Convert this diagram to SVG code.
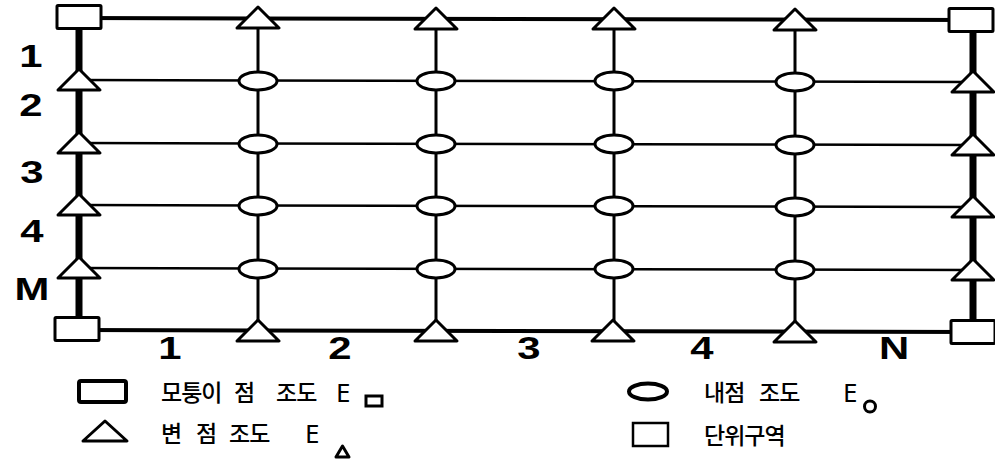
<svg xmlns="http://www.w3.org/2000/svg" xmlns:xlink="http://www.w3.org/1999/xlink" width="995" height="464" viewBox="0 0 995 464">
<style>
.shape{fill:#fff;stroke:#000;stroke-width:3;stroke-linejoin:round}
.edge{stroke:#000;stroke-linecap:butt;fill:none}
.thick{stroke-width:7}
.outer{stroke-width:4}
.vin{stroke-width:3}
.hin{stroke-width:2.5}
.num{font-family:"Liberation Sans",Arial,sans-serif;font-weight:bold;font-size:31px;fill:#000;text-anchor:middle}
.ko{font-family:"Noto Sans CJK KR","Noto Sans",sans-serif;font-size:23px;font-weight:500;letter-spacing:-1px;fill:#000}
.e{font-family:"Noto Sans","Liberation Sans",sans-serif;font-size:26px;fill:#000}
</style>
<defs>
<rect id="sq" class="shape" x="-22" y="-11.5" width="44" height="23" rx="1"/>
<path id="tri" class="shape" d="M0,-11 L21,10 L-21,10 Z"/>
<ellipse id="ell" class="shape" cx="0" cy="0" rx="19" ry="9"/>
</defs>
<rect width="995" height="464" fill="#fff"/>
<g id="connectors">
<line class="edge outer" x1="79" y1="18" x2="973" y2="20"/>
<line class="edge outer" x1="79" y1="330" x2="973" y2="332"/>
<line class="edge thick" x1="79" y1="18" x2="79" y2="330"/>
<line class="edge thick" x1="973" y1="20" x2="973" y2="332"/>
<line class="edge hin" x1="79" y1="80" x2="973" y2="82"/>
<line class="edge hin" x1="79" y1="143" x2="973" y2="145"/>
<line class="edge hin" x1="79" y1="205" x2="973" y2="207"/>
<line class="edge hin" x1="79" y1="268" x2="973" y2="270"/>
<line class="edge vin" x1="258" y1="18" x2="258" y2="331"/>
<line class="edge vin" x1="436" y1="19" x2="436" y2="331"/>
<line class="edge vin" x1="614" y1="19" x2="614" y2="331"/>
<line class="edge vin" x1="795" y1="20" x2="795" y2="332"/>
</g>
<g id="corner-tl"><use xlink:href="#sq" x="79" y="17"/></g>
<g id="corner-tr"><use xlink:href="#sq" x="971" y="20"/></g>
<g id="corner-bl"><use xlink:href="#sq" x="77" y="329"/></g>
<g id="corner-br"><use xlink:href="#sq" x="973" y="332"/></g>
<g id="edge-top-1"><use xlink:href="#tri" x="258" y="18"/></g>
<g id="edge-top-2"><use xlink:href="#tri" x="436" y="19"/></g>
<g id="edge-top-3"><use xlink:href="#tri" x="614" y="19"/></g>
<g id="edge-top-4"><use xlink:href="#tri" x="795" y="20"/></g>
<g id="edge-bottom-1"><use xlink:href="#tri" x="258" y="331"/></g>
<g id="edge-bottom-2"><use xlink:href="#tri" x="436" y="331"/></g>
<g id="edge-bottom-3"><use xlink:href="#tri" x="613" y="331"/></g>
<g id="edge-bottom-4"><use xlink:href="#tri" x="795" y="332"/></g>
<g id="edge-left-1"><use xlink:href="#tri" x="79" y="80"/></g>
<g id="edge-left-2"><use xlink:href="#tri" x="79" y="143"/></g>
<g id="edge-left-3"><use xlink:href="#tri" x="79" y="205"/></g>
<g id="edge-left-4"><use xlink:href="#tri" x="79" y="268"/></g>
<g id="edge-right-1"><use xlink:href="#tri" x="973" y="82"/></g>
<g id="edge-right-2"><use xlink:href="#tri" x="973" y="145"/></g>
<g id="edge-right-3"><use xlink:href="#tri" x="973" y="207"/></g>
<g id="edge-right-4"><use xlink:href="#tri" x="973" y="270"/></g>
<g id="inner-1-1"><use xlink:href="#ell" x="258" y="81"/></g>
<g id="inner-1-2"><use xlink:href="#ell" x="436" y="81"/></g>
<g id="inner-1-3"><use xlink:href="#ell" x="614" y="81"/></g>
<g id="inner-1-4"><use xlink:href="#ell" x="795" y="82"/></g>
<g id="inner-2-1"><use xlink:href="#ell" x="258" y="144"/></g>
<g id="inner-2-2"><use xlink:href="#ell" x="436" y="144"/></g>
<g id="inner-2-3"><use xlink:href="#ell" x="614" y="144"/></g>
<g id="inner-2-4"><use xlink:href="#ell" x="795" y="145"/></g>
<g id="inner-3-1"><use xlink:href="#ell" x="258" y="206"/></g>
<g id="inner-3-2"><use xlink:href="#ell" x="436" y="206"/></g>
<g id="inner-3-3"><use xlink:href="#ell" x="614" y="206"/></g>
<g id="inner-3-4"><use xlink:href="#ell" x="795" y="207"/></g>
<g id="inner-4-1"><use xlink:href="#ell" x="258" y="269"/></g>
<g id="inner-4-2"><use xlink:href="#ell" x="436" y="269"/></g>
<g id="inner-4-3"><use xlink:href="#ell" x="614" y="269"/></g>
<g id="inner-4-4"><use xlink:href="#ell" x="795" y="270"/></g>
<g id="row-labels">
<text class="num" transform="translate(31,67) scale(1.35,1)">1</text>
<text class="num" transform="translate(31,116) scale(1.35,1)">2</text>
<text class="num" transform="translate(32,183) scale(1.35,1)">3</text>
<text class="num" transform="translate(32,242) scale(1.35,1)">4</text>
<text class="num" transform="translate(32,300) scale(1.35,1)">M</text>
</g>
<g id="col-labels">
<text class="num" transform="translate(170,359) scale(1.35,1)">1</text>
<text class="num" transform="translate(340,359) scale(1.35,1)">2</text>
<text class="num" transform="translate(529,359) scale(1.35,1)">3</text>
<text class="num" transform="translate(702,359) scale(1.35,1)">4</text>
<text class="num" transform="translate(894,359) scale(1.35,1)">N</text>
</g>
<g id="legend">
<rect x="79" y="381" width="47" height="21" rx="2" fill="#fff" stroke="#000" stroke-width="4"/>
<text class="ko" x="161" y="401">모퉁이</text>
<text class="ko" x="234" y="401">점</text>
<text class="ko" x="276" y="401">조도</text>
<text class="e" x="336" y="402">E</text>
<rect x="366" y="396" width="16" height="10" fill="#fff" stroke="#000" stroke-width="3"/>
<path d="M105,421 L127,441 L83,441 Z" fill="#fff" stroke="#000" stroke-width="3" stroke-linejoin="round"/>
<text class="ko" x="161" y="442">변</text>
<text class="ko" x="196" y="442">점</text>
<text class="ko" x="229" y="442">조도</text>
<text class="e" x="305" y="443">E</text>
<path d="M342.5,446 L349,457 L336,457 Z" fill="#fff" stroke="#000" stroke-width="3" stroke-linejoin="round"/>
<ellipse cx="648" cy="391.5" rx="19" ry="8" fill="#fff" stroke="#000" stroke-width="4"/>
<text class="ko" x="704" y="401">내점</text>
<text class="ko" x="759" y="401">조도</text>
<text class="e" x="843" y="402">E</text>
<circle cx="870" cy="406.5" r="5.5" fill="#fff" stroke="#000" stroke-width="3"/>
<rect x="633" y="423" width="35" height="23" fill="#fff" stroke="#000" stroke-width="2.5"/>
<text class="ko" x="704" y="444">단위구역</text>
</g>
</svg>
